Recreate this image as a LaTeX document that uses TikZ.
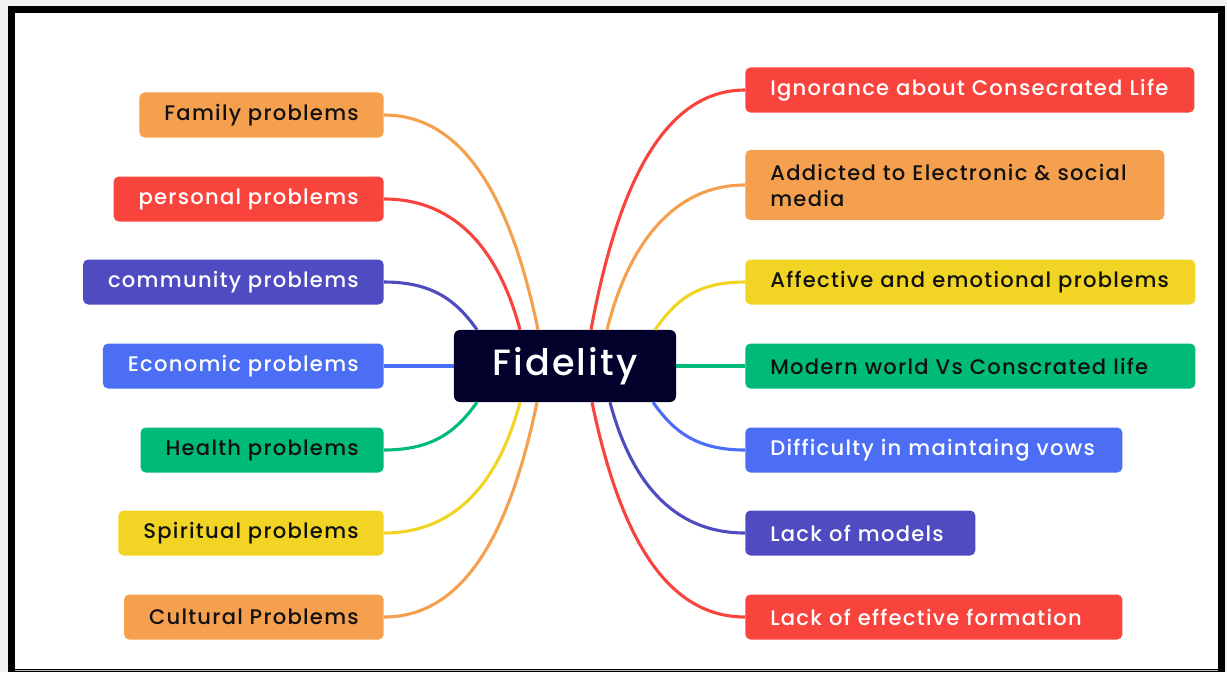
\documentclass[tikz,border=0pt]{standalone}
\usepackage{fontspec}
\setmainfont{Poppins Medium}[LetterSpace=6]
\usetikzlibrary{calc}
\definecolor{mmorange}{HTML}{F5A04E}
\definecolor{mmred}{HTML}{F9443E}
\definecolor{mmindigo}{HTML}{4F4BC1}
\definecolor{mmblue}{HTML}{4C6EF5}
\definecolor{mmgreen}{HTML}{00BA78}
\definecolor{mmyellow}{HTML}{F2D524}
\definecolor{mmnavy}{HTML}{02012B}
\definecolor{mmtext}{HTML}{111111}

\begin{document}
\begin{tikzpicture}[x=0.025cm,y=-0.025cm,
    box/.style={rectangle,rounded corners=0.13cm,minimum height=1.125cm,
      inner xsep=0.625cm,inner ysep=0.15cm,align=left,
      font=\fontsize{15}{18.5}\selectfont},
    link/.style={line width=2.2pt}]
  \useasboundingbox (0,0) rectangle (1227,672);
  % page frame
  \fill[gray!10] (0,0) rectangle (1227,672);
  \fill[black] (8,6) rectangle (1225,672);
  \fill[white] (15,13) rectangle (1218,669);
  \draw[gray!60,line width=0.6pt] (15,670) -- (1218,670);

  % central topic
  \node[rectangle,rounded corners=0.15cm,fill=mmnavy,text=white,
    minimum width=5.55cm,minimum height=1.8cm,
    font=\fontsize{26}{28}\selectfont] (hub) at (565,366) {Fidelity};

  % left branches
  \foreach \n/\y/\c/\tc/\t in {
      l1/115/mmorange/mmtext/Family problems,
      l2/199/mmred/white/personal problems,
      l3/282/mmindigo/white/community problems,
      l4/366/mmblue/white/Economic problems,
      l5/450/mmgreen/mmtext/Health problems,
      l6/533/mmyellow/mmtext/Spiritual problems,
      l7/617/mmorange/mmtext/Cultural Problems}{
    \node[box,fill=\c,text=\tc,anchor=east] (\n) at (384,\y) {\t};}

  % right branches, text left aligned in fixed widths
  \foreach \n/\y/\w/\c/\tc/\t in {
      r1/90/9.975/mmred/white/Ignorance about Consecrated Life,
      r3/282/10/mmyellow/mmtext/Affective and emotional problems,
      r4/366/10/mmgreen/mmtext/Modern world Vs Conscrated life,
      r5/450/8.175/mmblue/white/Difficulty in maintaing vows,
      r6/533/4.5/mmindigo/white/Lack of models,
      r7/617/8.175/mmred/white/Lack of effective formation}{
    \node[box,fill=\c,text=\tc,anchor=west,text width=\w cm] (\n) at (745,\y) {\t};}
  \node[box,fill=mmorange,text=mmtext,anchor=west,text width=9.225cm,
    minimum height=1.75cm] (r2) at (745,185) {Addicted to Electronic \& social\\media};

  % connectors, left side
  \draw[link,mmorange] (l1.east) .. controls +(85,0) and +(-25,-120) .. ($(hub.north)+(-27,0)$);
  \draw[link,mmred] (l2.east) .. controls +(75,0) and +(-20,-75) .. ($(hub.north)+(-45,0)$);
  \draw[link,mmindigo] (l3.east) .. controls +(50,0) and +(-20,-28) .. ($(hub.north)+(-88,0)$);
  \draw[link,mmblue] (l4.east) -- (hub.west);
  \draw[link,mmgreen] (l5.east) .. controls +(50,0) and +(-20,28) .. ($(hub.south)+(-88,0)$);
  \draw[link,mmyellow] (l6.east) .. controls +(75,0) and +(-20,75) .. ($(hub.south)+(-45,0)$);
  \draw[link,mmorange] (l7.east) .. controls +(85,0) and +(-25,120) .. ($(hub.south)+(-28,0)$);

  % connectors, right side
  \draw[link,mmred] (r1.west) .. controls +(-85,0) and +(25,-135) .. ($(hub.north)+(26,0)$);
  \draw[link,mmorange] (r2.west) .. controls +(-75,0) and +(20,-80) .. ($(hub.north)+(42,0)$);
  \draw[link,mmyellow] (r3.west) .. controls +(-50,0) and +(20,-28) .. ($(hub.north)+(90,0)$);
  \draw[link,mmgreen] (r4.west) -- (hub.east);
  \draw[link,mmblue] (r5.west) .. controls +(-50,0) and +(20,28) .. ($(hub.south)+(88,0)$);
  \draw[link,mmindigo] (r6.west) .. controls +(-75,0) and +(20,75) .. ($(hub.south)+(45,0)$);
  \draw[link,mmred] (r7.west) .. controls +(-85,0) and +(25,120) .. ($(hub.south)+(27,0)$);
\end{tikzpicture}
\end{document}
